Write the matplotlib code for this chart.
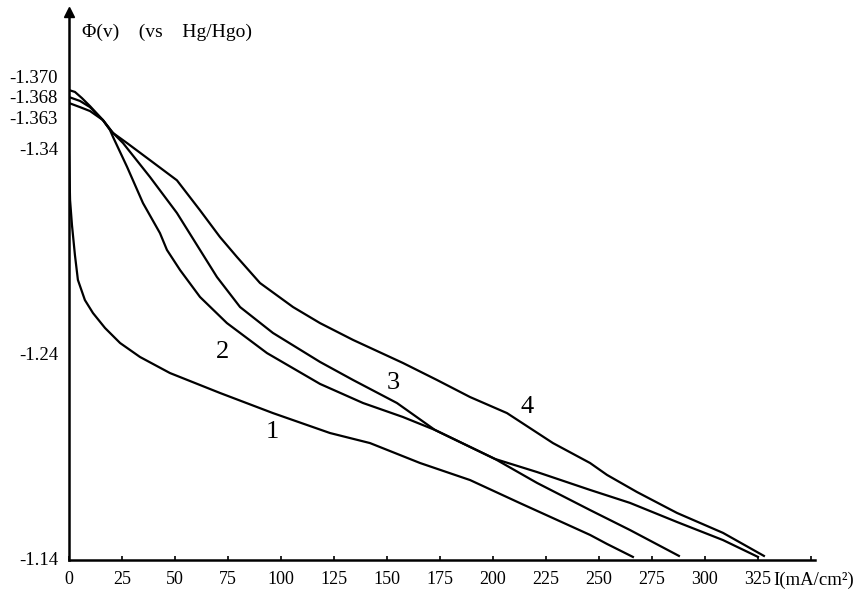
import matplotlib
matplotlib.use("Agg")
import matplotlib.pyplot as plt

# current density I (mA/cm2) and potential (V vs Hg/HgO)
i1 = [0, 0, 0.5, 1.4, 2.8, 4.2, 7.5, 11.3, 17.0, 24.1, 33.5, 47.6, 71.2, 96.2,
      123.1, 142.0, 165.6, 189.2, 212.7, 245.8, 253.8, 266.0]
v1 = [-1.3634, -1.3390, -1.3147, -1.3025, -1.2879, -1.2758, -1.2660, -1.2597,
      -1.2524, -1.2451, -1.2383, -1.2305, -1.2208, -1.2110, -1.2013, -1.1964,
      -1.1867, -1.1784, -1.1672, -1.1517, -1.1473, -1.1410]

i2 = [0, 5.2, 9.9, 16.0, 19.3, 20.8, 27.4, 34.9, 42.9, 46.2, 52.4, 61.8, 74.5,
      93.4, 118.4, 138.7, 157.5, 172.6, 200.9, 220.8, 245.8, 264.6, 286.8,
      308.5, 325.0]
v2 = [-1.3619, -1.3599, -1.3580, -1.3536, -1.3488, -1.3453, -1.3308, -1.3132,
      -1.2986, -1.2904, -1.2806, -1.2675, -1.2548, -1.2402, -1.2252, -1.2159,
      -1.2091, -1.2028, -1.1887, -1.1823, -1.1736, -1.1673, -1.1580, -1.1492,
      -1.1410]

i3 = [0, 5.2, 9.9, 16.0, 20.3, 25.5, 38.2, 50.9, 61.8, 69.8, 80.7, 96.2, 118.4,
      134.0, 154.7, 172.6, 200.9, 220.8, 245.8, 264.6, 287.7]
v3 = [-1.3648, -1.3629, -1.3599, -1.3536, -1.3478, -1.3424, -1.3259, -1.3084,
      -1.2904, -1.2772, -1.2626, -1.2500, -1.2359, -1.2271, -1.2159, -1.2028,
      -1.1887, -1.1770, -1.1638, -1.1541, -1.1415]

i4 = [0, 2.8, 6.1, 9.9, 16.0, 20.8, 27.4, 38.2, 50.9, 61.8, 71.2, 79.2, 90.1,
      105.7, 118.4, 134.0, 157.5, 173.6, 189.2, 206.6, 228.3, 245.8, 253.8,
      267.9, 286.8, 308.5, 327.8]
v4 = [-1.3682, -1.3673, -1.3643, -1.3604, -1.3536, -1.3473, -1.3424, -1.3341,
      -1.3243, -1.3097, -1.2967, -1.2870, -1.2743, -1.2626, -1.2548, -1.2466,
      -1.2354, -1.2271, -1.2188, -1.2110, -1.1964, -1.1867, -1.1809, -1.1726,
      -1.1624, -1.1527, -1.1415]

curves = [(i1, v1), (i2, v2), (i3, v3), (i4, v4)]
curve_names = ["1", "2", "3", "4"]
name_pos = [(96, -1.2018), (72.6, -1.2407), (152.8, -1.2256), (216, -1.2140)]

xticks = [0, 25, 50, 75, 100, 125, 150, 175, 200, 225, 250, 275, 300, 325, 350]
xtick_labels = ["0", "25", "50", "75", "100", "125", "150", "175", "200",
                "225", "250", "275", "300", "325", ""]
# the three open-circuit labels are spread apart in the original figure
yticks = [-1.14, -1.24, -1.34, -1.355, -1.365, -1.375]
ytick_labels = ["-1.14", "-1.24", "-1.34", "-1.363", "-1.368", "-1.370"]

serif = "Liberation Serif"

fig = plt.figure(figsize=(8.59, 5.95), dpi=100)
ax = fig.add_axes([69 / 859, 35 / 595, (815 - 69) / 859, (560 - 12) / 595])

for i, v in curves:
    ax.plot(i, v, color="black", lw=1.6, solid_joinstyle="round")

for name, (x, y) in zip(curve_names, name_pos):
    ax.text(x, y, name, fontsize=19, family=serif, ha="center", va="center")

ax.set_xlim(0, 351.9)
ax.set_ylim(-1.1395, -1.4062)

ax.spines["top"].set_visible(False)
ax.spines["right"].set_visible(False)
ax.spines["left"].set_linewidth(1.8)
ax.spines["bottom"].set_linewidth(1.8)

ax.set_xticks(xticks)
ax.set_xticklabels(xtick_labels, fontsize=13, family=serif)
ax.set_yticks(yticks)
ax.set_yticklabels(ytick_labels, fontsize=13.5, family=serif)
ax.tick_params(axis="x", direction="in", length=3, width=1.2, pad=8)
ax.tick_params(axis="y", direction="in", length=0, pad=8)

# arrow head on the potential axis
ax.plot(0, 1, marker="^", color="black", markersize=7,
        transform=ax.transAxes, clip_on=False)

fig.text(82 / 859, 1 - 32 / 595, "\u03a6(v)    (vs    Hg/Hgo)", fontsize=14,
         family=serif, ha="left", va="center")
fig.text(773 / 859, 1 - 580 / 595, "I(mA/cm\u00b2)", fontsize=13.5,
         family=serif, ha="left", va="center")

fig.savefig("out.png", dpi=100)
